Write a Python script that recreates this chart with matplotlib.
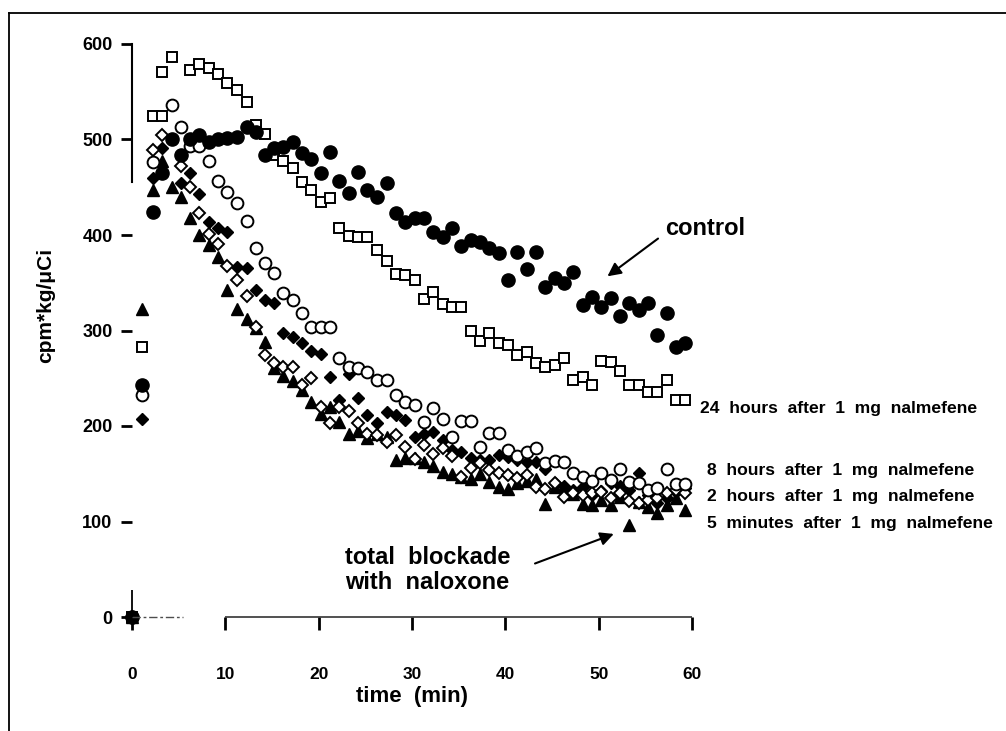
import numpy as np
import matplotlib
matplotlib.use('Agg')
import matplotlib.pyplot as plt
from matplotlib.lines import Line2D

plt.rcParams['font.family'] = ['Liberation Sans', 'DejaVu Sans']
plt.rcParams['font.weight'] = 'bold'

nan = np.nan

# sampling times (min), shared by all series
t = [0, 1.1, 2.2, 3.2, 4.3, 5.3, 6.2, 7.2, 8.2, 9.2, 10.2, 11.2, 12.3, 13.3, 14.2,
     15.2, 16.2, 17.2, 18.2, 19.2, 20.2, 21.2, 22.2, 23.2, 24.2, 25.2, 26.3, 27.3,
     28.3, 29.3, 30.3, 31.3, 32.3, 33.3, 34.3, 35.3, 36.3, 37.3, 38.3, 39.3, 40.3,
     41.3, 42.3, 43.3, 44.3, 45.3, 46.3, 47.3, 48.3, 49.3, 50.3, 51.3, 52.3, 53.3,
     54.3, 55.3, 56.3, 57.3, 58.3, 59.3]

control = [0, 243, 424, 465, 500, 484, 500, 505, 497, 500, 502, 503, 513, 508, 484,
           491, 492, 497, 486, 480, 465, 487, 457, 444, 466, 447, 440, 454, 423, 414,
           418, 418, 403, 398, 407, 388, 395, 393, 386, 381, 353, 382, 364, 382, 346,
           355, 350, 361, 327, 335, 325, 334, 315, 329, 321, 329, 295, 318, 283, 287]

h24 = [0, 283, 525, 571, 586, nan, 573, 579, 575, 569, 559, 552, 539, 515, 506,
       484, 478, 470, 456, 447, 435, 439, 407, 399, 398, 398, 384, 373, 359, 358,
       353, 333, 340, 328, 325, 325, 300, 289, 297, 287, 285, 274, 278, 266, 262,
       264, 271, 248, 251, 243, 268, 267, 258, 243, 243, 236, 236, 248, 227, 227]
h24_extra_t = [3.2]
h24_extra = [525]

h8 = [0, 232, 476, nan, 536, 513, 493, 493, 477, 457, 445, 434, 415, 386, 371,
      360, 339, 332, 318, 304, 304, 304, 271, 262, 261, 257, 248, 248, 232, 225,
      222, 204, 219, 207, 188, 205, 205, 178, 193, 193, 175, 169, 173, 177, 161,
      163, 162, 151, 147, 142, 151, 143, 155, 141, 140, 133, 135, 155, 139, 139]

min5 = [0, nan, 489, 505, nan, 472, 450, 423, 401, 391, 368, 353, 336, 304, 274,
        266, 262, 262, 243, 250, 220, 203, 220, 216, 203, 192, 191, 183, 191, 178,
        165, 180, 171, 177, 169, 147, 156, 161, 154, 151, 149, 146, 149, 136, 134,
        140, 126, 130, 128, 130, 131, 125, 130, 121, 119, 123, 125, 130, 133, 130]

h2 = [0, 207, 460, 491, nan, 454, 465, 443, 414, 407, 403, 367, 365, 342, 332,
      329, 297, 293, 287, 279, 275, 251, 227, 254, 229, 211, 203, 215, 211, 206,
      189, 192, 194, 185, 175, 173, 167, 164, 164, 170, 168, 164, 162, 162, 155,
      140, 137, 133, 136, 128, 132, 140, 137, 133, 151, 128, 119, 125, 131, 135]

naloxone = [0, 323, 447, 478, 450, 440, 418, 400, 390, 377, 342, 323, 312, 303, 288,
            261, 252, 247, 238, 225, 213, 220, 204, 192, 195, 187, 192, 189, 164, 166,
            166, 162, 158, 152, 150, 147, 145, 150, 141, 136, 134, 140, 142, 144, 118,
            136, 136, 129, 118, 117, 122, 117, 126, 96, 120, 115, 109, 117, 125, 112]

fig = plt.figure(figsize=(10.06, 7.31), dpi=100)
ax = fig.add_axes([132 / 1006, (731 - 617) / 731, 560 / 1006, 573 / 731])

kw = dict(linestyle='none', clip_on=False, color='black')
ax.plot(t, naloxone, marker='^', ms=8.5, **kw)
ax.plot(t, h2, marker='D', ms=5.8, **kw)
ax.plot(t, min5, marker='D', ms=5.8, mfc='white', mew=1.4, **kw)
ax.plot(t, h8, marker='o', ms=8.5, mfc='white', mew=1.4, **kw)
ax.plot(t, h24, marker='s', ms=7.5, mfc='white', mew=1.4, **kw)
ax.plot(h24_extra_t, h24_extra, marker='s', ms=7.5, mfc='white', mew=1.4, **kw)
ax.plot(t, control, marker='o', ms=9.5, **kw)

ax.set_xlim(0, 60)
ax.set_ylim(0, 600)
ax.set_xticks(range(0, 61, 10))
ax.set_yticks(range(0, 601, 100))

for s in ['top', 'right', 'bottom']:
    ax.spines[s].set_visible(False)
ax.spines['left'].set_bounds(455, 600)
ax.spines['left'].set_linewidth(1.5)

# broken-looking baseline as in the scan
ax.hlines(0, 0, 5.5, colors='0.3', lw=1, linestyles=(0, (6, 2, 2, 2)), clip_on=False)
ax.hlines(0, 10, 60, colors='0.2', lw=1.2, clip_on=False)
ax.vlines(0, 0, 28, colors='black', lw=1.3, clip_on=False)

ax.tick_params(axis='y', direction='out', length=8, width=2, pad=6, labelsize=13)
ax.tick_params(axis='x', direction='out', length=9, width=2, pad=27, labelsize=12.5)

ax.set_xlabel('time  (min)', fontsize=16, fontweight='bold', labelpad=3)
ax.set_ylabel('cpm*kg/\u03bcCi', fontsize=15, fontweight='bold')
ax.yaxis.set_label_coords(-0.1375, 0.543)

ax.text(57.1, 407, 'control', fontsize=17, fontweight='bold', ha='left', va='center')
ax.annotate('', xy=(50.7, 355), xytext=(56.6, 398),
            arrowprops=dict(arrowstyle='-|>', lw=1.5, color='black', mutation_scale=20))

ax.text(22.8, 49, 'total  blockade\nwith  naloxone', fontsize=17, fontweight='bold',
        ha='left', va='center', linespacing=1.1)
ax.annotate('', xy=(51.9, 88), xytext=(42.9, 55),
            arrowprops=dict(arrowstyle='-|>', lw=1.5, color='black', mutation_scale=20))

lab_kw = dict(fontsize=12.6, fontweight='bold', ha='left', va='center')
ax.text(60.9, 218, '24  hours  after  1  mg  nalmefene', **lab_kw)
ax.text(61.6, 153, '8  hours  after  1  mg  nalmefene', **lab_kw)
ax.text(61.6, 126, '2  hours  after  1  mg  nalmefene', **lab_kw)
ax.text(61.6, 98, '5  minutes  after  1  mg  nalmefene', **lab_kw)

# page frame from the scan
fig.add_artist(Line2D([0.009, 1.0], [0.982, 0.982], transform=fig.transFigure,
                      color='black', lw=1.3))
fig.add_artist(Line2D([0.009, 0.009], [0.0, 0.982], transform=fig.transFigure,
                      color='black', lw=1.3))

fig.savefig('out.png', dpi=100)
